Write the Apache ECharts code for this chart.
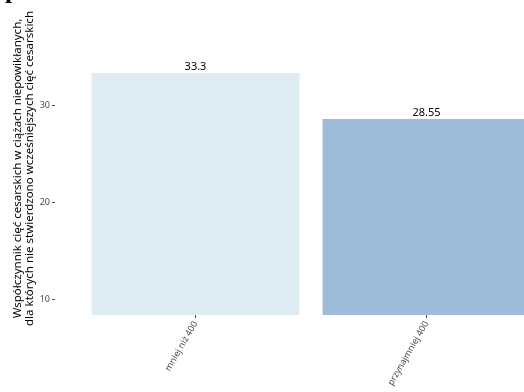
<!DOCTYPE html>
<html>
<head>
<meta charset="utf-8">
<script src="https://cdn.jsdelivr.net/npm/echarts@6/dist/echarts.min.js"></script>
<style>
html,body{margin:0;padding:0;background:#fff;}
#main{width:524px;height:392px;}
</style>
</head>
<body>
<div id="main"></div>
<script>
var categories = ['mniej niż 400', 'przynajmniej 400'];
var values = [33.3, 28.55];
var barColors = ['#e0ecf4', '#9ebcda'];
var yTicks = [10, 20, 30];

window.onload = function () {
    var chart = echarts.init(document.getElementById('main'));
    var option = {
        animation: false,
        backgroundColor: '#fff',
        title: {
            text: 'porodów',
            left: 0,
            top: -27,
            textStyle: {
                fontFamily: 'Liberation Serif',
                fontWeight: 'bold',
                fontSize: 26,
                color: '#000'
            }
        },
        grid: {
            left: 80,
            width: 462,
            top: 22,
            bottom: 77,
            outerBoundsMode: 'none'
        },
        xAxis: {
            type: 'category',
            data: categories,
            axisLine: { show: false },
            axisTick: {
                show: true,
                alignWithLabel: true,
                length: 3,
                lineStyle: { color: '#4d4d4d' }
            },
            axisLabel: {
                rotate: 60,
                margin: 7,
                fontSize: 9,
                fontFamily: 'Noto Sans',
                color: '#4d4d4d'
            }
        },
        yAxis: {
            type: 'value',
            min: 8.35,
            max: 38.56,
            offset: 25,
            name: 'Współczynnik cięć cesarskich w ciążach niepowikłanych,\ndla których nie stwierdzono wcześniejszych cięć cesarskich',
            nameLocation: 'middle',
            nameRotate: 90,
            nameGap: 19,
            nameMoveOverlap: false,
            nameTextStyle: {
                fontFamily: 'Noto Sans',
                fontSize: 11.5,
                lineHeight: 12,
                color: '#000'
            },
            splitLine: { show: false },
            axisLine: { show: false },
            axisTick: {
                show: true,
                length: 3,
                customValues: yTicks,
                lineStyle: { color: '#4d4d4d' }
            },
            axisLabel: {
                customValues: yTicks,
                margin: 5,
                fontSize: 9,
                fontFamily: 'Noto Sans',
                color: '#4d4d4d'
            }
        },
        series: [{
            type: 'bar',
            barCategoryGap: '10%',
            data: values.map(function (v, i) {
                return { value: v, itemStyle: { color: barColors[i] } };
            }),
            label: {
                show: true,
                position: 'top',
                distance: 1,
                fontFamily: 'Noto Sans',
                fontSize: 11,
                color: '#000'
            }
        }]
    };
    chart.setOption(option);
};
</script>
</body>
</html>
